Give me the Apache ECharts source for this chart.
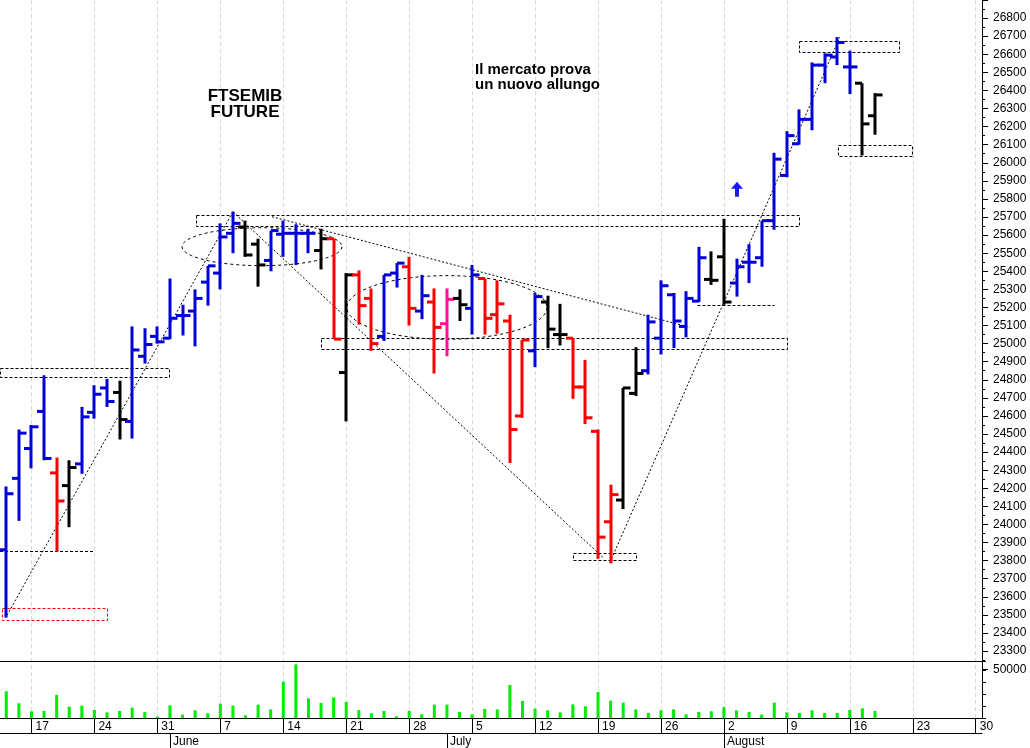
<!DOCTYPE html>
<html><head><meta charset="utf-8">
<script src="https://cdn.jsdelivr.net/npm/echarts@6/dist/echarts.min.js"></script>
<style>html,body{margin:0;padding:0;background:#fff}#c{width:1030px;height:748px}</style>
</head><body><div id="c"></div>
<script>
// ---- categories (trading days) ----
const dates = [
 '2021-05-13','2021-05-14','2021-05-17','2021-05-18','2021-05-19','2021-05-20','2021-05-21',
 '2021-05-24','2021-05-25','2021-05-26','2021-05-27','2021-05-28','2021-05-31',
 '2021-06-01','2021-06-02','2021-06-03','2021-06-04','2021-06-07','2021-06-08','2021-06-09','2021-06-10','2021-06-11',
 '2021-06-14','2021-06-15','2021-06-16','2021-06-17','2021-06-18','2021-06-21','2021-06-22','2021-06-23','2021-06-24','2021-06-25',
 '2021-06-28','2021-06-29','2021-06-30',
 '2021-07-01','2021-07-02','2021-07-05','2021-07-06','2021-07-07','2021-07-08','2021-07-09',
 '2021-07-12','2021-07-13','2021-07-14','2021-07-15','2021-07-16','2021-07-19','2021-07-20','2021-07-21','2021-07-22','2021-07-23',
 '2021-07-26','2021-07-27','2021-07-28','2021-07-29','2021-07-30',
 '2021-08-02','2021-08-03','2021-08-04','2021-08-05','2021-08-06','2021-08-09','2021-08-10','2021-08-11','2021-08-12','2021-08-13',
 '2021-08-16','2021-08-17','2021-08-18','2021-08-19','2021-08-20','2021-08-23','2021-08-24','2021-08-25','2021-08-26','2021-08-27',
 '2021-08-30'
];
const monthNames = {'05':'May','06':'June','07':'July','08':'August'};

// ---- OHLC values ----
const open = [23860,24255,24420,24625,24285,24215,24335,24620,24755,24730,
 24570,24930,25040,25030,25155,25180,25340,25390,25610,25645,
 25550,25460,25605,25610,25610,25515,25580,24840,25380,25250,
 25040,25390,25425,25180,25230,25110,25250,25195,25360,25160,
 25125,24600,24960,25230,25050,25030,24760,24515,24015,24135,
 24725,24850,25030,25270,25095,25235,25355,25480,25335,25450,
 25475,25680,25930,26105,26240,26540,26585,26530,26440,26260];
const high = [24210,24525,24550,24825,24370,24355,24650,24770,24805,24795,
 25095,25085,25095,25360,25215,25300,25430,25665,25730,25680,
 25580,25625,25680,25660,25635,25635,25580,25390,25405,25305,
 25380,25445,25480,25380,25305,25305,25300,25435,25360,25350,
 25160,25020,25280,25265,25220,25030,24910,24525,24220,24755,
 24980,25160,25350,25280,25290,25535,25510,25690,25470,25550,
 25680,26055,26175,26295,26555,26605,26695,26620,26440,26385];
const low = [23485,24020,24310,24355,23850,23985,24280,24585,24650,24470,
 24475,24890,25000,25025,25045,24985,25210,25300,25500,25480,
 25315,25400,25480,25435,25500,25410,25025,24570,25105,24960,
 25015,25310,25100,25135,24835,24930,25125,25050,25050,25055,
 24340,24590,24870,24975,24990,24695,24555,23810,23785,24085,
 24710,24830,24940,24975,25035,25230,25325,25215,25260,25335,
 25425,25630,25920,26100,26180,26440,26540,26380,26040,26155];
const close = [24170,24505,24540,24365,24130,24315,24595,24720,24680,24580,
 24965,24995,25010,25140,25155,25250,25430,25590,25665,25490,
 25435,25625,25610,25610,25610,25580,25025,25380,25210,25000,
 25380,25445,25195,25265,25090,25245,25215,25380,25140,25220,
 24525,25020,25260,25080,25050,24760,24590,23930,24165,24755,
 24835,25120,25320,25125,25250,25475,25350,25230,25425,25450,
 25680,26020,26150,26240,26540,26595,26665,26530,26215,26375];
// bar signal colour code: B blue, R red, K black, P pink
const signal = ['B','B','B','B','R','K','B','B','B','K',
 'B','B','B','B','B','B','B','B','B','K',
 'K','B','B','B','B','K','R','K','R','R',
 'B','B','R','B','R','P','K','B','R','R',
 'R','R','B','K','K','R','R','R','R','K',
 'K','B','B','B','B','B','K','K','B','B',
 'B','B','B','B','B','B','B','B','K','K'];
const volume = [27800,15300,7000,7300,24000,11800,12800,8300,5900,7300,
 10800,6250,1400,13200,3500,8000,4900,14900,12800,2800,
 13900,9000,37800,55900,20500,15600,21500,16700,8300,4900,
 7300,1800,7300,3800,13900,13900,6250,3800,9400,9000,
 34400,17700,9700,8000,5900,14200,12200,27100,18000,16000,
 9000,5200,8000,9000,3800,6250,7000,11500,8000,6250,
 3500,16000,5900,5200,8000,5200,5200,8300,10100,7300];

// ---- drawn annotations (data coordinates: category index, price) ----
const annotations = [
 {kind:'rect', x0:-0.5, x1:12.92, p0:24863, p1:24815, color:'#000'},
 {kind:'rect', x0:-0.34, x1:8.0, p0:23540, p1:23474, color:'#ff0000'},
 {kind:'rect', x0:15.04, x1:62.96, p0:25711, p1:25651, color:'#000'},
 {kind:'rect', x0:25.0, x1:62.0, p0:25031, p1:24971, color:'#000'},
 {kind:'rect', x0:45.0, x1:50.0, p0:23843, p1:23805, color:'#000'},
 {kind:'rect', x0:62.96, x1:70.9, p0:26675, p1:26615, color:'#000'},
 {kind:'rect', x0:66.06, x1:71.94, p0:26097, p1:26036, color:'#000'},
 {kind:'hline', x0:-0.5, x1:7.05, p0:23856, p1:23856},
 {kind:'hline', x0:54.9, x1:61.0, p0:25215, p1:25215},
 {kind:'trend', x0:0.06, x1:18.0, p0:23498, p1:25729},
 {kind:'trend', x0:18.0, x1:47.4, p0:25729, p1:23817},
 {kind:'trend', x0:21.1, x1:54.3, p0:25702, p1:25090},
 {kind:'trend', x0:47.95, x1:66.2, p0:23790, p1:26694},
 {kind:'ellipse', cx:20.31, cp:25536, rx:6.35, rp:105},
 {kind:'ellipse', cx:35.0, cp:25200, rx:7.94, rp:176},
 {kind:'arrow', x0:58.04, p0:25895}
];

const signalColor = {B:'#0000d8', R:'#ff0000', K:'#000000', P:'#ff1493'};
const FONT = '"Liberation Sans", Arial, sans-serif';
const dow = v => new Date(v + 'T00:00:00Z').getUTCDay();
const isMonday = (i, v) => dow(v) === 1;
const isMonthStart = (i, v) => i > 0 && dates[i-1].slice(5,7) !== v.slice(5,7);
const mondays = dates.filter(d => dow(d) === 1);

const ohlcData = open.map((o, i) => [i, o, high[i], low[i], close[i]]);
const volData = volume.map((v, i) => [i, v]);

function renderOHLC(params, api) {
  const i = api.value(0);
  const pO = api.coord([i, api.value(1)]);
  const pH = api.coord([i, api.value(2)]);
  const pL = api.coord([i, api.value(3)]);
  const pC = api.coord([i, api.value(4)]);
  const col = signalColor[signal[params.dataIndex]];
  const x = Math.round(pH[0]);
  const st = {fill: col};
  return {type:'group', children:[
    {type:'rect', shape:{x:x-1.5, y:pH[1], width:3, height:Math.max(1, pL[1]-pH[1])}, style:st},
    {type:'rect', shape:{x:x-7, y:pO[1]-1.5, width:7, height:3}, style:st},
    {type:'rect', shape:{x:x, y:pC[1]-1.5, width:7.5, height:3}, style:st}
  ]};
}

function renderAnno(params, api) {
  const a = annotations[params.dataIndex];
  const c0 = api.coord([0, 25000])[0], c1 = api.coord([1, 25000])[0];
  const X = idx => c0 + (c1 - c0) * idx;
  const Y = p => api.coord([0, p])[1];
  if (a.kind === 'rect') {
    const x0 = X(a.x0), x1 = X(a.x1), y0 = Y(a.p0), y1 = Y(a.p1);
    return {type:'rect', shape:{x:Math.round(x0)+0.5, y:Math.round(y0)+0.5, width:Math.round(x1-x0), height:Math.round(y1-y0)},
      style:{fill:'none', stroke:a.color, lineWidth:1, lineDash:[3,2]}};
  }
  if (a.kind === 'hline') {
    const y = Math.round(Y(a.p0)) + 0.5;
    return {type:'line', shape:{x1:X(a.x0), y1:y, x2:X(a.x1), y2:y}, style:{stroke:'#000', lineWidth:1, lineDash:[3,2]}};
  }
  if (a.kind === 'trend') {
    return {type:'line', shape:{x1:X(a.x0), y1:Y(a.p0), x2:X(a.x1), y2:Y(a.p1)}, style:{stroke:'#000', lineWidth:1, lineDash:[2,2]}};
  }
  if (a.kind === 'ellipse') {
    const cx = X(a.cx), cy = Y(a.cp), rx = X(a.cx + a.rx) - cx, ry = Y(a.cp - a.rp) - cy;
    const pts = [];
    for (let k = 0; k < 90; k++) { const t = k / 90 * Math.PI * 2; pts.push([cx + rx*Math.cos(t), cy + ry*Math.sin(t)]); }
    return {type:'polygon', shape:{points:pts}, style:{fill:'none', stroke:'#000', lineWidth:1, lineDash:[3,3]}};
  }
  if (a.kind === 'arrow') {
    const x = X(a.x0), y = Y(a.p0);
    return {type:'polygon', shape:{points:[[x,y],[x+6,y+7],[x+2,y+7],[x+2,y+15],[x-2,y+15],[x-2,y+7],[x-6,y+7]]}, style:{fill:'#1a1aff'}};
  }
}

const gridLine = {symbol:['none','none'], silent:true, z:0, label:{show:false}, animation:false,
  lineStyle:{color:'#d8d8d8', type:[4,3], width:1}, data: mondays.map(d => ({xAxis: d}))};

const chart = echarts.init(document.getElementById('c'), null, {renderer:'canvas'});
chart.setOption({
  animation:false,
  backgroundColor:'#fff',
  grid:[
    {left:0, right:48, top:-2.45, height:671.6},
    {left:0, right:48, top:661, height:57}
  ],
  xAxis:[
    {type:'category', gridIndex:0, data:dates, axisLine:{show:false}, axisTick:{show:false}, axisLabel:{show:false}, splitLine:{show:false}},
    {type:'category', gridIndex:1, data:dates, position:'bottom',
      axisLine:{show:true, lineStyle:{color:'#000', width:1}},
      axisTick:{show:true, alignWithLabel:true, interval:isMonday, length:15, inside:false, lineStyle:{color:'#000', width:1}},
      axisLabel:{show:true, interval:isMonday, formatter:v => String(+v.slice(8)), align:'left', padding:[0,0,0,4], margin:3,
        color:'#000', fontSize:12, fontFamily:FONT},
      splitLine:{show:false}},
    {type:'category', gridIndex:1, data:dates, position:'bottom', offset:15,
      axisLine:{show:true, lineStyle:{color:'#000', width:1}},
      axisTick:{show:true, alignWithLabel:true, interval:isMonthStart, length:15, inside:false, lineStyle:{color:'#000', width:1}},
      axisLabel:{show:true, interval:isMonthStart, formatter:v => monthNames[v.slice(5,7)], align:'left', padding:[0,0,0,3], margin:3,
        color:'#000', fontSize:12, fontFamily:FONT},
      splitLine:{show:false}},
    {type:'category', gridIndex:1, data:dates, position:'top',
      axisLine:{show:true, lineStyle:{color:'#000', width:1}}, axisTick:{show:false}, axisLabel:{show:false}, splitLine:{show:false}}
  ],
  yAxis:[
    {type:'value', gridIndex:0, position:'right', min:23200, max:26900, interval:100,
      axisLine:{show:true, lineStyle:{color:'#000'}},
      axisTick:{show:true, length:6, lineStyle:{color:'#000'}},
      minorTick:{show:true, splitNumber:2, length:3, lineStyle:{color:'#000'}},
      splitLine:{show:false},
      axisLabel:{margin:11, color:'#000', fontSize:12, fontFamily:FONT, showMinLabel:false, showMaxLabel:false, formatter:v => String(v)}},
    {type:'value', gridIndex:1, position:'right', min:0, max:59375, interval:12500,
      axisLine:{show:true, lineStyle:{color:'#000'}},
      axisTick:{show:true, length:4, lineStyle:{color:'#000'}},
      splitLine:{show:false},
      axisLabel:{margin:11, color:'#000', fontSize:12, fontFamily:FONT, formatter:v => v === 50000 ? '50000' : ''}}
  ],
  series:[
    {type:'line', xAxisIndex:0, yAxisIndex:0, data:[], z:0, markLine:gridLine},
    {type:'line', xAxisIndex:1, yAxisIndex:1, data:[], z:0, markLine:gridLine},
    {type:'custom', name:'annotations', xAxisIndex:0, yAxisIndex:0, clip:false, z:3,
      data:annotations.map(() => [0, 25000]), encode:{x:0, y:1}, renderItem:renderAnno, silent:true},
    {type:'custom', name:'FTSEMIB', xAxisIndex:0, yAxisIndex:0, z:4,
      data:ohlcData, encode:{x:0, y:[1,2,3,4]}, renderItem:renderOHLC},
    {type:'bar', name:'Volume', xAxisIndex:1, yAxisIndex:1, data:volData, barWidth:3, z:4,
      itemStyle:{color:'#00ee00'}}
  ],
  graphic:[
    {type:'text', x:245, y:88, z:10, style:{text:'FTSEMIB\nFUTURE', font:'bold 17px ' + FONT, fill:'#000', align:'center', verticalAlign:'top', lineHeight:16}},
    {type:'text', x:475, y:62, z:10, style:{text:'Il mercato prova\nun nuovo allungo', font:'bold 15px ' + FONT, fill:'#000', align:'left', verticalAlign:'top', lineHeight:15}}
  ]
});
</script></body></html>
